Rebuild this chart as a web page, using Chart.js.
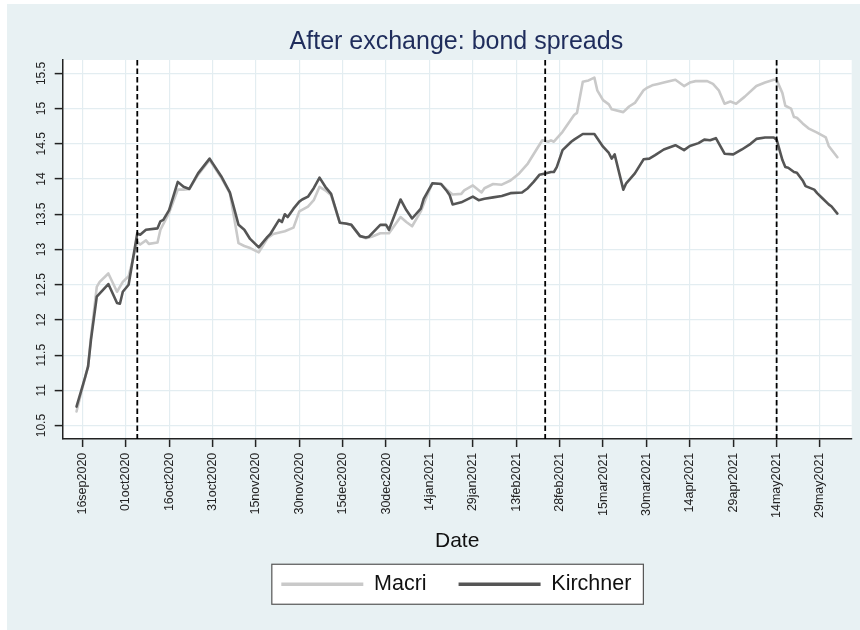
<!DOCTYPE html>
<html>
<head>
<meta charset="utf-8">
<title>After exchange: bond spreads</title>
<script src="https://cdn.jsdelivr.net/npm/chart.js@4.4.1/dist/chart.umd.min.js"></script>
<style>
  html, body { margin: 0; padding: 0; background: #fff; }
  #wrap { width: 860px; height: 630px; }
</style>
</head>
<body>
<div id="wrap"><canvas id="chart-spreads" width="860" height="630"></canvas></div>
<script>
// day offsets are counted from 16sep2020
const macriDays = [-2, 1, 2, 3, 5, 6, 9, 12, 14, 16, 19, 20, 22, 23, 26, 27, 30, 33, 35, 37, 40, 44, 48, 51, 54, 56, 58, 61, 64, 66, 70, 73, 75, 78, 80, 82, 84, 86, 89, 91, 93, 96, 98, 100, 103, 106, 110, 112, 114, 117, 119, 121, 124, 126, 128, 131, 132, 135, 138, 139, 142, 145, 148, 151, 154, 157, 159, 161, 162, 163, 166, 170, 171, 173, 175, 177, 178, 180, 182, 183, 187, 189, 191, 194, 195, 197, 199, 201, 205, 208, 210, 212, 216, 218, 220, 222, 224, 226, 229, 233, 236, 239, 240, 242, 243, 245, 246, 247, 249, 251, 254, 257, 258, 261];
const macriValues = [10.70, 11.19, 11.34, 11.76, 12.47, 12.54, 12.66, 12.40, 12.54, 12.62, 13.11, 13.07, 13.13, 13.08, 13.10, 13.28, 13.52, 13.85, 13.85, 13.86, 14.06, 14.27, 14.02, 13.80, 13.09, 13.05, 13.02, 12.96, 13.16, 13.22, 13.26, 13.31, 13.54, 13.61, 13.70, 13.89, 13.84, 13.77, 13.38, 13.37, 13.35, 13.19, 13.16, 13.18, 13.23, 13.23, 13.46, 13.39, 13.33, 13.54, 13.75, 13.94, 13.93, 13.85, 13.78, 13.79, 13.84, 13.91, 13.81, 13.87, 13.93, 13.92, 13.98, 14.08, 14.22, 14.42, 14.55, 14.53, 14.55, 14.53, 14.67, 14.91, 14.94, 15.38, 15.40, 15.44, 15.26, 15.12, 15.06, 14.99, 14.95, 15.03, 15.08, 15.26, 15.29, 15.33, 15.35, 15.37, 15.41, 15.32, 15.37, 15.39, 15.39, 15.35, 15.26, 15.07, 15.10, 15.07, 15.17, 15.32, 15.37, 15.41, 15.41, 15.22, 15.04, 15.00, 14.88, 14.87, 14.79, 14.72, 14.66, 14.59, 14.47, 14.31];

const kirchnerDays = [-2, 1, 2, 3, 5, 9, 12, 13, 14, 16, 19, 20, 22, 26, 27, 28, 30, 33, 35, 37, 40, 44, 48, 51, 54, 56, 58, 61, 64, 65, 68, 69, 70, 71, 73, 75, 76, 78, 80, 82, 84, 86, 89, 91, 93, 96, 98, 99, 103, 105, 106, 110, 112, 114, 117, 118, 121, 124, 126, 127, 128, 131, 135, 137, 139, 142, 145, 148, 152, 154, 156, 158, 160, 162, 163, 164, 166, 169, 170, 173, 177, 180, 182, 183, 184, 187, 188, 191, 194, 196, 198, 201, 205, 208, 210, 213, 215, 217, 219, 222, 225, 228, 231, 233, 236, 239, 240, 242, 243, 244, 246, 247, 249, 250, 253, 254, 256, 258, 259, 261];
const kirchnerValues = [10.77, 11.19, 11.34, 11.72, 12.33, 12.51, 12.24, 12.23, 12.40, 12.50, 13.23, 13.21, 13.28, 13.30, 13.40, 13.42, 13.56, 13.96, 13.89, 13.86, 14.08, 14.29, 14.04, 13.81, 13.35, 13.28, 13.15, 13.03, 13.18, 13.22, 13.42, 13.39, 13.50, 13.46, 13.58, 13.68, 13.71, 13.75, 13.87, 14.02, 13.89, 13.79, 13.38, 13.37, 13.35, 13.19, 13.17, 13.18, 13.35, 13.35, 13.28, 13.71, 13.56, 13.44, 13.58, 13.72, 13.94, 13.93, 13.83, 13.77, 13.64, 13.67, 13.75, 13.70, 13.72, 13.74, 13.76, 13.80, 13.81, 13.87, 13.96, 14.06, 14.08, 14.10, 14.10, 14.17, 14.41, 14.53, 14.56, 14.64, 14.64, 14.46, 14.37, 14.29, 14.35, 13.85, 13.94, 14.08, 14.28, 14.29, 14.34, 14.42, 14.48, 14.41, 14.47, 14.51, 14.56, 14.55, 14.58, 14.36, 14.35, 14.42, 14.50, 14.57, 14.59, 14.59, 14.56, 14.27, 14.17, 14.16, 14.10, 14.09, 13.98, 13.90, 13.85, 13.80, 13.72, 13.64, 13.61, 13.51];

// dashed event lines: 05oct2020, 23feb2021, 14may2021
const eventDays = [19, 160, 240];

const xTicks = [0, 15, 30, 45, 60, 75, 90, 105, 120, 135, 150, 165, 180, 195, 210, 225, 240, 255];
const xTickLabels = ['16sep2020', '01oct2020', '16oct2020', '31oct2020', '15nov2020', '30nov2020', '15dec2020', '30dec2020', '14jan2021', '29jan2021', '13feb2021', '28feb2021', '15mar2021', '30mar2021', '14apr2021', '29apr2021', '14may2021', '29may2021'];
const yTicks = [10.5, 11, 11.5, 12, 12.5, 13, 13.5, 14, 14.5, 15, 15.5];

const FONT = '"Liberation Sans", Arial, sans-serif';

function toPoints(days, values) {
    return days.map((d, i) => ({ x: d, y: values[i] }));
}

// panel colour, white plot region and the framed legend box
const backdrop = {
    id: 'backdrop',
    beforeDraw(chart) {
        const { ctx, chartArea: a } = chart;
        ctx.save();
        ctx.fillStyle = '#ffffff';
        ctx.fillRect(0, 0, chart.width, chart.height);
        ctx.fillStyle = '#e8f1f3';
        ctx.fillRect(7, 4, chart.width - 7, chart.height - 4);
        ctx.fillStyle = '#ffffff';
        ctx.fillRect(a.left, a.top, a.right - a.left, a.bottom - a.top);

        const boxes = chart.legend && chart.legend.legendHitBoxes;
        if (boxes && boxes.length) {
            const first = boxes[0], last = boxes[boxes.length - 1];
            const left = first.left - 9.5;
            const right = last.left + last.width + 12;
            const mid = first.top + first.height / 2;
            ctx.fillStyle = '#ffffff';
            ctx.fillRect(left, mid - 20, right - left, 40);
            ctx.strokeStyle = '#555';
            ctx.lineWidth = 1.2;
            ctx.strokeRect(left, mid - 20, right - left, 40);
        }
        ctx.restore();
    }
};

// Stata style vertical y labels
const yLabels = {
    id: 'yLabels',
    afterDraw(chart) {
        const { ctx } = chart;
        const sy = chart.scales.y;
        ctx.save();
        ctx.font = '12px ' + FONT;
        ctx.fillStyle = '#222';
        ctx.textAlign = 'center';
        ctx.textBaseline = 'middle';
        yTicks.forEach(v => {
            ctx.save();
            ctx.translate(sy.right - 21, sy.getPixelForValue(v));
            ctx.rotate(-Math.PI / 2);
            ctx.fillText(String(v), 0, 0);
            ctx.restore();
        });
        ctx.restore();
    }
};

const eventLines = {
    id: 'eventLines',
    afterDatasetsDraw(chart) {
        const { ctx, chartArea: a } = chart;
        const sx = chart.scales.x;
        ctx.save();
        ctx.strokeStyle = '#000';
        ctx.lineWidth = 1.8;
        ctx.setLineDash([5.5, 3]);
        eventDays.forEach(d => {
            const px = sx.getPixelForValue(d);
            ctx.beginPath();
            ctx.moveTo(px, a.top);
            ctx.lineTo(px, a.bottom);
            ctx.stroke();
        });
        ctx.restore();
    }
};

new Chart(document.getElementById('chart-spreads'), {
    type: 'line',
    data: {
        datasets: [
            {
                label: 'Macri',
                data: toPoints(macriDays, macriValues),
                borderColor: '#c9c9c9',
                backgroundColor: '#c9c9c9',
                borderWidth: 2.6,
                order: 1
            },
            {
                label: 'Kirchner',
                data: toPoints(kirchnerDays, kirchnerValues),
                borderColor: '#555555',
                backgroundColor: '#555555',
                borderWidth: 2.6,
                order: 0
            }
        ]
    },
    options: {
        responsive: false,
        animation: false,
        devicePixelRatio: 1,
        layout: { padding: { top: 17, left: 61, right: 8.3, bottom: 25 } },
        elements: {
            point: { radius: 0 },
            line: { tension: 0, fill: false, borderJoinStyle: 'round', borderCapStyle: 'round' }
        },
        scales: {
            x: {
                type: 'linear',
                min: -6.78,
                max: 265.95,
                afterBuildTicks: s => { s.ticks = xTicks.map(v => ({ value: v })); },
                afterFit: s => { s.height = 114.5; },
                ticks: {
                    autoSkip: false,
                    minRotation: 90,
                    maxRotation: 90,
                    padding: 5.7,
                    color: '#222',
                    font: { family: FONT, size: 12.5 },
                    callback: v => {
                        const i = xTicks.indexOf(v);
                        return i >= 0 ? xTickLabels[i] : '';
                    }
                },
                grid: { color: '#e3edf1', lineWidth: 1.2, tickLength: 8, tickColor: '#222', tickWidth: 1.5 },
                border: { color: '#222', width: 1.5 },
                title: {
                    display: true,
                    text: 'Date',
                    color: '#111',
                    font: { family: FONT, size: 21 },
                    padding: { top: 0, bottom: 0 }
                }
            },
            y: {
                type: 'linear',
                min: 10.31,
                max: 15.69,
                afterBuildTicks: s => { s.ticks = yTicks.map(v => ({ value: v })); },
                afterFit: s => { s.width = 1.7; },
                ticks: { display: false },
                grid: { color: '#e3edf1', lineWidth: 1.2, tickLength: 8, tickColor: '#222', tickWidth: 1.5 },
                border: { color: '#222', width: 1.5 }
            }
        },
        plugins: {
            title: {
                display: true,
                text: 'After exchange: bond spreads',
                color: '#1f2d5c',
                font: { family: FONT, size: 25, weight: 'normal' },
                padding: { top: 10, bottom: 3 }
            },
            legend: {
                position: 'bottom',
                labels: {
                    boxWidth: 82,
                    boxHeight: 3.5,
                    padding: 20,
                    color: '#111',
                    font: { family: FONT, size: 21.5 },
                    generateLabels: chart => chart.data.datasets.map((ds, i) => ({
                        text: ds.label + (i < chart.data.datasets.length - 1 ? '  ' : ''),
                        fillStyle: ds.borderColor,
                        strokeStyle: ds.borderColor,
                        lineWidth: 0,
                        hidden: false,
                        datasetIndex: i,
                        fontColor: '#111'
                    }))
                }
            },
            tooltip: { enabled: false }
        }
    },
    plugins: [backdrop, yLabels, eventLines]
});
</script>
</body>
</html>
